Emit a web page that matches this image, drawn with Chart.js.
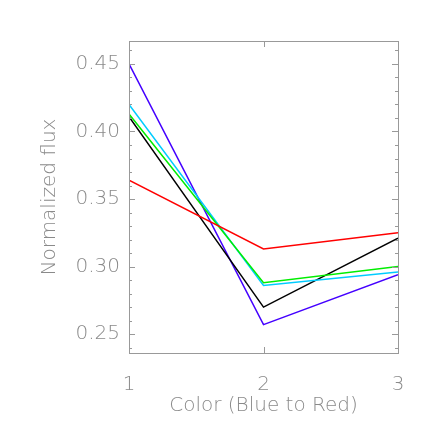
<!DOCTYPE html>
<html lang="en">
<head>
    <meta charset="UTF-8">
    <title>Normalized flux</title>
    <script src="https://cdn.jsdelivr.net/npm/chart.js"></script>
    <style>
        body {
            margin: 0;
            background-color: #fff;
        }
        #chartBox {
            width: 436px;
            height: 436px;
        }
    </style>
</head>
<body>
    <div id="chartBox">
        <canvas id="fluxChart" width="436" height="436"></canvas>
    </div>

    <script>
        // Data
        const colorIndex = [1, 2, 3];
        const seriesBlue = [0.450, 0.257, 0.294];
        const seriesCyan = [0.420, 0.286, 0.296];
        const seriesGreen = [0.413, 0.288, 0.300];
        const seriesBlack = [0.411, 0.270, 0.321];
        const seriesRed = [0.364, 0.313, 0.325];
        const yTicks = [0.25, 0.30, 0.35, 0.40, 0.45];

        const axisGrey = '#999';
        const textGrey = '#8a8a8a';
        const labelFont = { family: 'DejaVu Sans', size: 20, weight: '200' };

        function toPoints(values) {
            return values.map((v, i) => ({ x: colorIndex[i], y: v }));
        }

        // Box round the plot, with inward ticks on all four sides
        const boxTicks = {
            id: 'boxTicks',
            afterDraw(chart) {
                const { ctx, chartArea: a, scales: { x, y } } = chart;
                ctx.save();
                ctx.strokeStyle = axisGrey;
                ctx.lineWidth = 1;
                ctx.strokeRect(a.left + 0.5, a.top + 0.5, a.right - a.left, a.bottom - a.top);
                ctx.beginPath();
                // x major ticks
                colorIndex.forEach(v => {
                    const px = Math.round(x.getPixelForValue(v)) + 0.5;
                    ctx.moveTo(px, a.bottom); ctx.lineTo(px, a.bottom - 6);
                    ctx.moveTo(px, a.top); ctx.lineTo(px, a.top + 6);
                });
                // y minor ticks every 0.01, major every 0.05
                for (let k = Math.ceil(y.min * 100); k <= Math.floor(y.max * 100); k++) {
                    const py = Math.round(y.getPixelForValue(k / 100)) + 0.5;
                    const len = (k % 5 === 0) ? 6 : 3;
                    ctx.moveTo(a.left, py); ctx.lineTo(a.left + len, py);
                    ctx.moveTo(a.right, py); ctx.lineTo(a.right - len, py);
                }
                ctx.stroke();
                ctx.restore();
            }
        };

        function makeSet(values, color) {
            return {
                data: toPoints(values),
                borderColor: color,
                backgroundColor: color,
                borderWidth: 1.5,
                pointRadius: 0,
                tension: 0,
                fill: false
            };
        }

        const ctx = document.getElementById('fluxChart').getContext('2d');
        new Chart(ctx, {
            type: 'line',
            data: {
                datasets: [
                    makeSet(seriesRed, '#ff0000'),
                    makeSet(seriesGreen, '#00ee00'),
                    makeSet(seriesCyan, '#00ccff'),
                    makeSet(seriesBlack, '#000000'),
                    makeSet(seriesBlue, '#4400ff')
                ]
            },
            options: {
                responsive: false,
                animation: false,
                layout: { padding: { top: 41, right: 38, left: 0, bottom: 0 } },
                plugins: {
                    legend: { display: false },
                    tooltip: { enabled: false }
                },
                scales: {
                    x: {
                        type: 'linear',
                        min: 1,
                        max: 3,
                        afterBuildTicks: s => { s.ticks = colorIndex.map(v => ({ value: v })); },
                        afterFit: s => { s.height = 83; },
                        grid: { display: false },
                        border: { display: false },
                        ticks: {
                            color: textGrey,
                            padding: 12,
                            maxRotation: 0,
                            font: labelFont,
                            callback: v => String(v)
                        },
                        title: {
                            display: true,
                            text: 'Color (Blue to Red)',
                            color: textGrey,
                            padding: { bottom: 18 },
                            font: labelFont
                        }
                    },
                    y: {
                        min: 0.236,
                        max: 0.467,
                        afterBuildTicks: s => { s.ticks = yTicks.map(v => ({ value: v })); },
                        afterFit: s => { s.width = 129; },
                        grid: { display: false },
                        border: { display: false },
                        ticks: {
                            color: textGrey,
                            padding: 1,
                            font: labelFont,
                            callback: v => v.toFixed(2)
                        },
                        title: {
                            display: true,
                            text: 'Normalized flux',
                            color: textGrey,
                            padding: { top: 38 },
                            font: labelFont
                        }
                    }
                }
            },
            plugins: [boxTicks]
        });
    </script>
</body>
</html>
